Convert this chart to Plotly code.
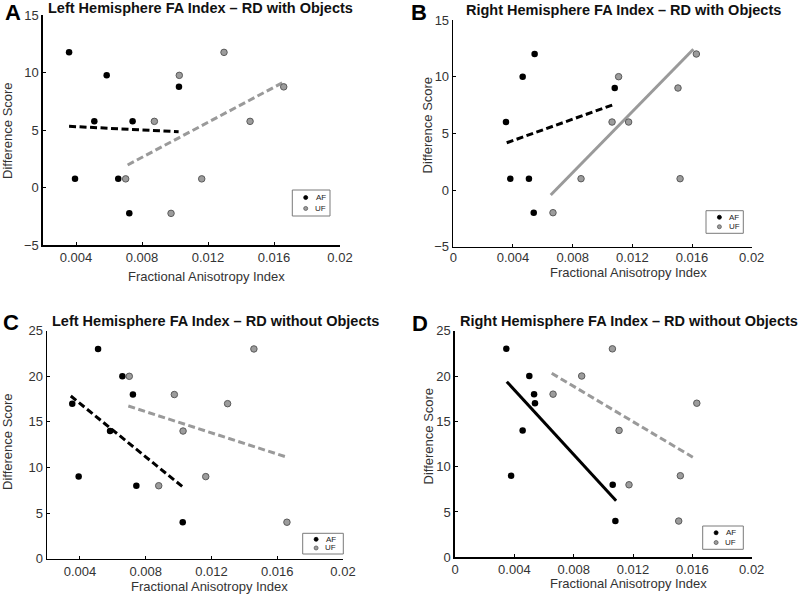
import plotly.graph_objects as go

# ---------------- data ----------------
A_AF_x = [0.00358, 0.00394, 0.00511, 0.00586, 0.00656, 0.00723, 0.00743, 0.01024]
A_AF_y = [11.75, 0.75, 5.75, 9.75, 0.75, -2.25, 5.75, 8.75]
A_UF_x = [0.00701, 0.00875, 0.00976, 0.01026, 0.01162, 0.01297, 0.01455, 0.01659]
A_UF_y = [0.75, 5.75, -2.25, 9.75, 0.75, 11.75, 5.75, 8.75]
A_fitAF_x = [0.00358, 0.01022]
A_fitAF_y = [5.32, 4.85]
A_fitUF_x = [0.00713, 0.01653]
A_fitUF_y = [1.96, 9.12]

B_AF_x = [0.00353, 0.00382, 0.00465, 0.00507, 0.00545, 0.00539, 0.01082]
B_AF_y = [6, 1, 10, 1, 12, -2, 9]
B_UF_x = [0.00668, 0.00856, 0.01064, 0.01108, 0.01175, 0.01506, 0.01520, 0.01629]
B_UF_y = [-2, 1, 6, 10, 6, 9, 1, 12]
B_fitAF_x = [0.00358, 0.01066]
B_fitAF_y = [4.17, 7.5]
B_fitUF_x = [0.00653, 0.01609]
B_fitUF_y = [-0.44, 12.42]

C_AF_x = [0.00353, 0.00392, 0.00510, 0.00583, 0.00658, 0.00722, 0.00743, 0.01025]
C_AF_y = [17, 9, 23, 14, 20, 18, 8, 4]
C_UF_x = [0.00700, 0.00879, 0.00974, 0.01027, 0.01165, 0.01298, 0.01458, 0.01659]
C_UF_y = [20, 8, 18, 14, 9, 17, 23, 4]
C_fitAF_x = [0.00344, 0.01028]
C_fitAF_y = [17.84, 7.83]
C_fitUF_x = [0.00694, 0.01661]
C_fitUF_y = [16.74, 11.12]

D_AF_x = [0.00346, 0.00378, 0.00456, 0.00501, 0.00533, 0.00539, 0.01063, 0.01081]
D_AF_y = [23, 9, 14, 20, 18, 17, 8, 4]
D_UF_x = [0.00661, 0.00854, 0.01061, 0.01106, 0.01173, 0.01519, 0.01508, 0.01630]
D_UF_y = [18, 20, 23, 14, 8, 9, 4, 17]
D_fitAF_x = [0.00349, 0.01086]
D_fitAF_y = [19.38, 6.25]
D_fitUF_x = [0.00652, 0.01603]
D_fitUF_y = [20.3, 11.04]

X_TICKS_A = [0.004, 0.008, 0.012, 0.016, 0.02]
X_LABELS_A = ["0.004", "0.008", "0.012", "0.016", "0.02"]
X_TICKS_B = [0, 0.004, 0.008, 0.012, 0.016, 0.02]
X_LABELS_B = ["0", "0.004", "0.008", "0.012", "0.016", "0.02"]
Y_TICKS_TOP = [-5, 0, 5, 10, 15]
Y_TICKS_BOT = [0, 5, 10, 15, 20, 25]

TITLES = ["Left Hemisphere FA Index \u2013 RD with Objects",
          "Right Hemisphere FA Index \u2013 RD with Objects",
          "Left Hemisphere FA Index \u2013 RD without Objects",
          "Right Hemisphere FA Index \u2013 RD without Objects"]
LETTERS = ["A", "B", "C", "D"]

# ---------------- style / layout ----------------
W, H = 800, 594
FONT = "Liberation Sans, Arial, sans-serif"
BLACK = "#000000"
GREY_FILL = "#9c9c9c"
GREY_EDGE = "#5a5a5a"
GREY_LINE = "#9a9a9a"


def px(x):
    return x / W


def py(y):
    return 1 - y / H


panels = [
    dict(ax=("x", "y"), xd=(43, 340), yd=(15, 245), xr=[0.002, 0.02], yr=[-5, 15],
         xt=(X_TICKS_A, X_LABELS_A), yt=Y_TICKS_TOP, xstand=0,
         AF=(A_AF_x, A_AF_y), UF=(A_UF_x, A_UF_y),
         fAF=(A_fitAF_x, A_fitAF_y, "dash"), fUF=(A_fitUF_x, A_fitUF_y, "dash"),
         title=(200.8, 8.5), letter=(12.5, 13), ylab=(7, 131), xlab=(206.7, 276.5),
         leg=(292.3, 330, 190, 216)),
    dict(ax=("x2", "y2"), xd=(453.3, 751.7), yd=(20, 246.7), xr=[0, 0.02], yr=[-5, 15],
         xt=(X_TICKS_B, X_LABELS_B), yt=Y_TICKS_TOP, xstand=-2,
         AF=(B_AF_x, B_AF_y), UF=(B_UF_x, B_UF_y),
         fAF=(B_fitAF_x, B_fitAF_y, "dash"), fUF=(B_fitUF_x, B_fitUF_y, "solid"),
         title=(623.3, 9.5), letter=(419, 13), ylab=(427.5, 125), xlab=(628, 272.5),
         leg=(706, 743.3, 210.7, 233.3)),
    dict(ax=("x3", "y3"), xd=(47.1, 343), yd=(330.7, 558.7), xr=[0.002, 0.02], yr=[0, 25],
         xt=(X_TICKS_A, X_LABELS_A), yt=Y_TICKS_BOT, xstand=0,
         AF=(C_AF_x, C_AF_y), UF=(C_UF_x, C_UF_y),
         fAF=(C_fitAF_x, C_fitAF_y, "dash"), fUF=(C_fitUF_x, C_fitUF_y, "dash"),
         title=(215.8, 320.8), letter=(10.5, 322.5), ylab=(7, 442), xlab=(209, 586.7),
         leg=(302.7, 343.3, 533.3, 554)),
    dict(ax=("x4", "y4"), xd=(455, 751.7), yd=(330.7, 557.3), xr=[0, 0.02], yr=[0, 25],
         xt=(X_TICKS_B, X_LABELS_B), yt=Y_TICKS_BOT, xstand=-1,
         AF=(D_AF_x, D_AF_y), UF=(D_UF_x, D_UF_y),
         fAF=(D_fitAF_x, D_fitAF_y, "solid"), fUF=(D_fitUF_x, D_fitUF_y, "dash"),
         title=(629, 320.8), letter=(420, 323.5), ylab=(427.5, 436), xlab=(628, 583.5),
         leg=(702.7, 743.3, 526, 549.3)),
]

fig = go.Figure()
layout = dict(width=W, height=H, margin=dict(l=0, r=0, t=0, b=0, pad=0),
              paper_bgcolor="white", plot_bgcolor="white", showlegend=False,
              font=dict(family=FONT, color="#222"))
annotations = []
shapes = []


def note(text, x, y, size, color="#333", angle=0):
    annotations.append(dict(text=text, x=px(x), y=py(y), xref="paper", yref="paper",
                            xanchor="center", yanchor="middle", showarrow=False,
                            textangle=angle, font=dict(size=size, color=color, family=FONT)))


for i, p in enumerate(panels):
    xa, ya = p["ax"]
    for key, col in (("fAF", BLACK), ("fUF", GREY_LINE)):
        fx, fy, style = p[key]
        fig.add_trace(go.Scatter(
            x=fx, y=fy, mode="lines", xaxis=xa, yaxis=ya, hoverinfo="skip",
            line=dict(color=col, width=3, dash=("7px,3.5px" if style == "dash" else "solid"))))
    ax_, ay_ = p["AF"]
    fig.add_trace(go.Scatter(x=ax_, y=ay_, mode="markers", xaxis=xa, yaxis=ya, name="AF",
                             marker=dict(size=6.5, color=BLACK, line=dict(width=0))))
    ux_, uy_ = p["UF"]
    fig.add_trace(go.Scatter(x=ux_, y=uy_, mode="markers", xaxis=xa, yaxis=ya, name="UF",
                             marker=dict(size=6.5, color=GREY_FILL, line=dict(width=1, color=GREY_EDGE))))

    suffix = "" if i == 0 else str(i + 1)
    tv, tt = p["xt"]
    layout["xaxis" + suffix] = dict(
        domain=[px(p["xd"][0]), px(p["xd"][1])], range=p["xr"], anchor=ya,
        showline=True, linecolor=BLACK, linewidth=1.6, showgrid=False, zeroline=False,
        ticks="inside", ticklen=3, tickcolor=BLACK, tickwidth=1, automargin=False,
        ticklabelstandoff=p["xstand"],
        tickvals=tv, ticktext=tt, tickfont=dict(size=13, color="#333"))
    layout["yaxis" + suffix] = dict(
        domain=[py(p["yd"][1]), py(p["yd"][0])], range=p["yr"], anchor=xa,
        showline=True, linecolor=BLACK, linewidth=1.6, showgrid=False, zeroline=False,
        ticks="inside", ticklen=3, tickcolor=BLACK, tickwidth=1, automargin=False,
        tickvals=p["yt"], tickfont=dict(size=13, color="#333"))

    note("<b>" + TITLES[i] + "</b>", *p["title"], size=14.5, color="#111")
    note("<b>" + LETTERS[i] + "</b>", *p["letter"], size=22, color="#000")
    note("Difference Score", *p["ylab"], size=13, angle=-90)
    note("Fractional Anisotropy Index", *p["xlab"], size=13)

    # small boxed legend
    l0, l1, t0, t1 = p["leg"]
    shapes.append(dict(type="rect", xref="paper", yref="paper",
                       x0=px(l0), x1=px(l1), y0=py(t1), y1=py(t0),
                       line=dict(color="#7a7a7a", width=1), fillcolor="white"))
    hgt = t1 - t0
    for k, (name, fc, ec) in enumerate((("AF", BLACK, BLACK), ("UF", GREY_FILL, GREY_EDGE))):
        cy = t0 + hgt * (0.29 if k == 0 else 0.71)
        cx = l0 + 13.4
        r = 2.0
        shapes.append(dict(type="circle", xref="paper", yref="paper",
                           x0=px(cx - r), x1=px(cx + r), y0=py(cy + r), y1=py(cy - r),
                           fillcolor=fc, line=dict(color=ec, width=0.8)))
        note(name, l0 + 28.2, cy, size=8, color="#222")

layout["annotations"] = annotations
layout["shapes"] = shapes
fig.update_layout(**layout)
fig.write_html("out.html",
               config={"displayModeBar": False, "staticPlot": True},
               post_script="document.body.style.margin='0';document.body.style.padding='0';"
                           "document.body.style.overflow='hidden';")
